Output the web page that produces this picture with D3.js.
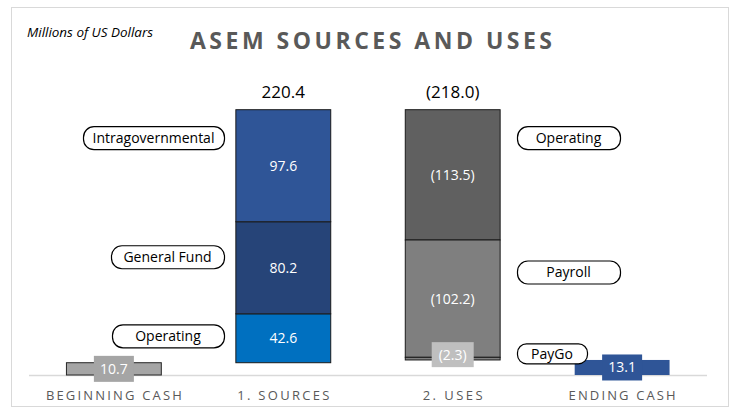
<!DOCTYPE html>
<html>
<head>
<meta charset="utf-8">
<script src="https://cdn.jsdelivr.net/npm/d3@7"></script>
<style>
  body { margin: 0; background: #fff; }
  svg { display: block; font-family: "Open Sans", Lato, sans-serif; }
</style>
</head>
<body>
<svg id="chart" width="734" height="408"></svg>
<script>
// data
const categories = ["BEGINNING CASH", "1. SOURCES", "2. USES", "ENDING CASH"];
const beginningCash = 10.7;
const endingCash = 13.1;
// sources, bottom to top
const sourceNames = ["Operating", "General Fund", "Intragovernmental"];
const sourceValues = [42.6, 80.2, 97.6];
// uses, top to bottom
const useNames = ["Operating", "Payroll", "PayGo"];
const useValues = [113.5, 102.2, 2.3];

const sourceColors = ["#0070C0", "#264478", "#2F5597"];
const useColors = ["#606060", "#7F7F7F", "#7F7F7F"];

// callout layout (px offset of box centre from segment top, box width)
const leftDy = [22, 35, 28];
const leftW = [112, 113, 141];
const rightDy = [28, 32, -4];
const rightW = [103, 103, 70];

const svg = d3.select("#chart");

const x = d3.scaleBand()
    .domain(categories)
    .range([29, 707])
    .paddingInner(0.44)
    .paddingOuter(0.221);

const y = d3.scaleLinear()
    .domain([0, 250])
    .range([375, 88]);

const fmt = d3.format(".1f");
const neg = v => "(" + fmt(v) + ")";

// frame
svg.append("rect")
    .attr("x", 11.5).attr("y", 7.5)
    .attr("width", 717).attr("height", 399)
    .attr("fill", "none")
    .attr("stroke", "#D9D9D9");

svg.append("text")
    .attr("x", 27).attr("y", 37)
    .attr("font-size", 12)
    .attr("font-style", "italic")
    .attr("fill", "#000")
    .attr("textLength", 126)
    .attr("lengthAdjust", "spacingAndGlyphs")
    .text("Millions of US Dollars");

svg.append("text")
    .attr("x", 371).attr("y", 49)
    .attr("text-anchor", "middle")
    .attr("font-size", 23)
    .attr("font-weight", "bold")
    .attr("fill", "#595959")
    .attr("textLength", 362)
    .attr("lengthAdjust", "spacing")
    .text("ASEM SOURCES AND USES");

// build segments
let segs = [];
let base = beginningCash;
sourceValues.forEach(function (v, i) {
    segs.push({ cat: categories[1], y0: base, y1: base + v, color: sourceColors[i], label: fmt(v), name: sourceNames[i] });
    base += v;
});
const sourcesTotal = d3.sum(sourceValues);
const usesTotal = d3.sum(useValues);
let level = beginningCash + sourcesTotal;
useValues.forEach(function (v, i) {
    segs.push({ cat: categories[2], y0: level - v, y1: level, color: useColors[i], label: neg(v), name: useNames[i] });
    level -= v;
});

// axis line
svg.append("line")
    .attr("x1", 29).attr("x2", 707)
    .attr("y1", 375.5).attr("y2", 375.5)
    .attr("stroke", "#D9D9D9")
    .attr("stroke-width", 1.5);

// beginning cash
svg.append("rect")
    .attr("x", x(categories[0]))
    .attr("y", y(beginningCash))
    .attr("width", x.bandwidth())
    .attr("height", y(0) - y(beginningCash))
    .attr("fill", "#A5A5A5")
    .attr("stroke", "#262626")
    .attr("stroke-width", 1);

// ending cash
svg.append("rect")
    .attr("x", x(categories[3]))
    .attr("y", y(endingCash))
    .attr("width", x.bandwidth())
    .attr("height", y(0) - y(endingCash))
    .attr("fill", "#2F5597");

// stacked segments
svg.selectAll(".seg")
    .data(segs)
    .enter()
    .append("rect")
    .attr("class", "seg")
    .attr("x", d => x(d.cat))
    .attr("y", d => y(d.y1))
    .attr("width", x.bandwidth())
    .attr("height", d => y(d.y0) - y(d.y1))
    .attr("fill", d => d.color)
    .attr("stroke", "#1a1a1a")
    .attr("stroke-width", 1);

// segment labels (big ones)
svg.selectAll(".seg-label")
    .data(segs.filter(d => d.y1 - d.y0 > 10))
    .enter()
    .append("text")
    .attr("class", "seg-label")
    .attr("x", d => x(d.cat) + x.bandwidth() / 2)
    .attr("y", d => (y(d.y0) + y(d.y1)) / 2 + 5)
    .attr("text-anchor", "middle")
    .attr("font-size", 14)
    .attr("fill", "#fff")
    .text(d => d.label);

// boxed labels for the small values
const boxed = [
    { cat: categories[0], v0: 0, v1: beginningCash, text: fmt(beginningCash), fill: "#A5A5A5", w: 40, h: 26 },
    { cat: categories[3], v0: 0, v1: endingCash, text: fmt(endingCash), fill: "#2F5597", w: 40, h: 26 },
    { cat: categories[2], v0: segs[5].y0, v1: segs[5].y1, text: segs[5].label, fill: "#BFBFBF", w: 42, h: 25, dy: -4 }
];
boxed.forEach(function (b) {
    let cx = x(b.cat) + x.bandwidth() / 2;
    let cy = (y(b.v0) + y(b.v1)) / 2 + (b.dy || 0);
    svg.append("rect")
        .attr("x", cx - b.w / 2).attr("y", cy - b.h / 2)
        .attr("width", b.w).attr("height", b.h)
        .attr("fill", b.fill);
    svg.append("text")
        .attr("x", cx).attr("y", cy + 5)
        .attr("text-anchor", "middle")
        .attr("font-size", 14)
        .attr("fill", "#fff")
        .text(b.text);
});

// totals
svg.append("text")
    .attr("x", x(categories[1]) + x.bandwidth() / 2)
    .attr("y", y(beginningCash + sourcesTotal) - 12)
    .attr("text-anchor", "middle")
    .attr("font-size", 17)
    .attr("fill", "#000")
    .text(fmt(sourcesTotal));

svg.append("text")
    .attr("x", x(categories[2]) + x.bandwidth() / 2)
    .attr("y", y(beginningCash + sourcesTotal) - 12)
    .attr("text-anchor", "middle")
    .attr("font-size", 17)
    .attr("fill", "#000")
    .text(neg(usesTotal));

// callouts
function callout(xl, cy, w, h, text) {
    let g = svg.append("g");
    g.append("rect")
        .attr("x", xl + 0.5).attr("y", cy - h / 2 + 0.5)
        .attr("width", w).attr("height", h)
        .attr("rx", h / 2 - 1)
        .attr("fill", "#fff")
        .attr("stroke", "#000")
        .attr("stroke-width", 1.2);
    g.append("text")
        .attr("x", xl + w / 2).attr("y", cy + 5.5)
        .attr("text-anchor", "middle")
        .attr("font-size", 14)
        .attr("fill", "#000")
        .text(text);
}

segs.slice(0, 3).forEach(function (d, i) {
    callout(224 - leftW[i], y(d.y1) + leftDy[i], leftW[i], 23, d.name);
});
segs.slice(3).forEach(function (d, i) {
    callout(517, y(d.y1) + rightDy[i], rightW[i], i === 2 ? 20 : 23, d.name);
});

// category labels
const catW = [136, 92, 60, 107];
svg.selectAll(".cat")
    .data(categories)
    .enter()
    .append("text")
    .attr("class", "cat")
    .attr("x", d => x(d) + x.bandwidth() / 2)
    .attr("y", 400)
    .attr("text-anchor", "middle")
    .attr("font-size", 13)
    .attr("fill", "#595959")
    .attr("textLength", (d, i) => catW[i])
    .attr("lengthAdjust", "spacing")
    .text(d => d);
</script>
</body>
</html>
